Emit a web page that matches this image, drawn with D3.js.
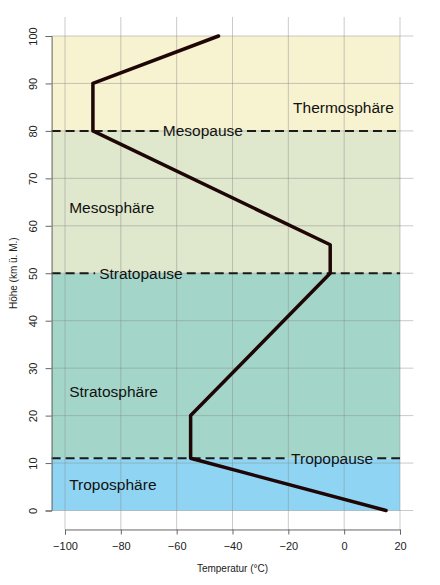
<!DOCTYPE html>
<html>
<head>
<meta charset="utf-8">
<script src="https://cdn.jsdelivr.net/npm/d3@7"></script>
<style>
  body { margin: 0; background: #fff; }
  svg { display: block; font-family: "Liberation Sans", Arial, sans-serif; }
</style>
</head>
<body>
<div id="chart"></div>
<script>
// temperature profile (°C) against altitude (km)
const profileTemp = [15, -55, -55, -5, -5, -90, -90, -45];
const profileAlt = [0, 11, 20, 50, 56, 80, 90, 100];

// atmosphere layers
const layerNames = ["Troposphäre", "Stratosphäre", "Mesosphäre", "Thermosphäre"];
const layerBottom = [0, 11, 50, 80];
const layerTop = [11, 50, 80, 100];

// boundaries between layers
const pauseNames = ["Tropopause", "Stratopause", "Mesopause"];
const pauseAlt = [11, 50, 80];

const xTicks = [-100, -80, -60, -40, -20, 0, 20];
const yTicks = [0, 10, 20, 30, 40, 50, 60, 70, 80, 90, 100];

// styling / label placement (in data units)
const layerColors = ["#8fd5f3", "#a3d6c9", "#dfe7cc", "#f7f2d0"];
const layerLabelPos = [[-98.5, 5.4], [-98.5, 25], [-98.5, 63.8], [-18.3, 85]];
const pauseLabelX = [-4.3, -72.8, -50.6];

const width = 440, height = 585;

const svg = d3.select("#chart").append("svg")
    .attr("width", width)
    .attr("height", height);

const x = d3.scaleLinear().domain([-100, 20]).range([65, 400]);
const y = d3.scaleLinear().domain([0, 100]).range([510.5, 36]);

// plot region with R-style 4% padding
const xMin = -104.8, xMax = 24.8, yMin = -4, yMax = 104;

// bands
svg.selectAll(".band")
    .data(layerNames)
    .enter().append("rect")
    .attr("class", "band")
    .attr("x", x(xMin))
    .attr("width", x(20) - x(xMin))
    .attr("y", (d, i) => y(layerTop[i]))
    .attr("height", (d, i) => y(layerBottom[i]) - y(layerTop[i]))
    .attr("fill", (d, i) => layerColors[i]);

// grid
svg.selectAll(".vgrid")
    .data(xTicks)
    .enter().append("line")
    .attr("x1", d => x(d)).attr("x2", d => x(d))
    .attr("y1", y(yMax)).attr("y2", y(yMin))
    .attr("stroke", "#8a8a8a")
    .attr("stroke-opacity", 0.45)
    .attr("stroke-width", 1);

svg.selectAll(".hgrid")
    .data(yTicks)
    .enter().append("line")
    .attr("x1", x(xMin)).attr("x2", x(xMax))
    .attr("y1", d => y(d)).attr("y2", d => y(d))
    .attr("stroke", "#8a8a8a")
    .attr("stroke-opacity", 0.45)
    .attr("stroke-width", 1);

// layer names
svg.selectAll(".layerLabel")
    .data(layerNames)
    .enter().append("text")
    .attr("x", (d, i) => x(layerLabelPos[i][0]))
    .attr("y", (d, i) => y(layerLabelPos[i][1]))
    .attr("dominant-baseline", "central")
    .style("font-size", "15.5px")
    .attr("fill", "#111")
    .text(d => d);

// boundaries: dashed line broken around the label
pauseNames.forEach((name, i) => {
    const yy = y(pauseAlt[i]);
    const label = svg.append("text")
        .attr("x", x(pauseLabelX[i]))
        .attr("y", yy)
        .attr("text-anchor", "middle")
        .attr("dominant-baseline", "central")
        .style("font-size", "15.5px")
        .attr("fill", "#111")
        .text(name);
    const w = label.node().getComputedTextLength();
    const left = x(pauseLabelX[i]) - w / 2 - 4;
    const right = x(pauseLabelX[i]) + w / 2 + 4;
    [[x(xMin), left], [right, x(20)]].forEach(seg => {
        svg.append("line")
            .attr("x1", seg[0]).attr("x2", seg[1])
            .attr("y1", yy).attr("y2", yy)
            .attr("stroke", "#1a1a1a")
            .attr("stroke-width", 2)
            .attr("stroke-dasharray", "9,5");
    });
});

// profile
const line = d3.line()
    .x(d => x(profileTemp[d]))
    .y(d => y(profileAlt[d]));

svg.append("path")
    .datum(d3.range(profileTemp.length))
    .attr("fill", "none")
    .attr("stroke", "#1e0606")
    .attr("stroke-width", 3.5)
    .attr("stroke-linejoin", "round")
    .attr("stroke-linecap", "round")
    .attr("d", line);

// axes
const xAxis = svg.append("g")
    .attr("transform", `translate(0, ${y(yMin)})`)
    .call(d3.axisBottom(x).tickValues(xTicks).tickSizeOuter(0).tickSize(5).tickPadding(8));
xAxis.selectAll("text").style("font-size", "11px").attr("fill", "#222");

const yAxis = svg.append("g")
    .attr("transform", `translate(${x(xMin)}, 0)`)
    .call(d3.axisLeft(y).tickValues(yTicks).tickSizeOuter(0).tickSize(6));
yAxis.selectAll("text")
    .style("font-size", "11px")
    .attr("fill", "#222")
    .attr("text-anchor", "middle")
    .attr("dominant-baseline", "central")
    .attr("x", 0).attr("dy", null)
    .attr("transform", `translate(${33 - x(xMin)}, 0) rotate(-90)`);

[xAxis, yAxis].forEach(g => {
    g.select(".domain").attr("stroke", "#666");
    g.selectAll(".tick line").attr("stroke", "#666");
});

svg.append("text")
    .attr("x", (x(-100) + x(20)) / 2)
    .attr("y", 572)
    .attr("text-anchor", "middle")
    .style("font-size", "10px")
    .attr("fill", "#222")
    .text("Temperatur (°C)");

svg.append("text")
    .attr("transform", `translate(13, ${(y(0) + y(100)) / 2}) rotate(-90)`)
    .attr("text-anchor", "middle")
    .attr("dominant-baseline", "central")
    .style("font-size", "10px")
    .attr("fill", "#222")
    .text("Höhe (km ü. M.)");
</script>
</body>
</html>
